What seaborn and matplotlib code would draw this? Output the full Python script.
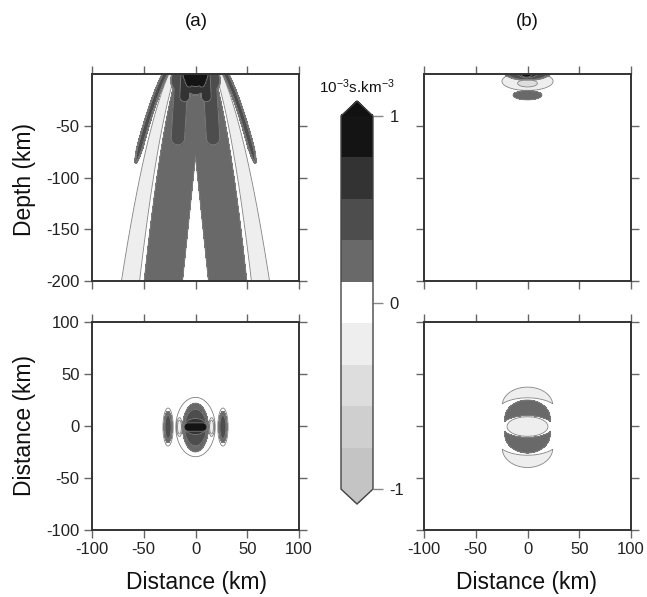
import numpy as np
import matplotlib
matplotlib.use("Agg")
import matplotlib.pyplot as plt
import seaborn as sns
from matplotlib.colors import ListedColormap, BoundaryNorm
from matplotlib.cm import ScalarMappable

# ---------------- data ----------------
LEVELS = np.linspace(-1, 1, 10)
BIN_COLORS = ['#c4c4c4', '#cfcfcf', '#dddddd', '#eeeeee', '#ffffff',
              '#696969', '#4d4d4d', '#333333', '#141414']
OVER_COLOR = '#111111'
UNDER_COLOR = '#c4c4c4'
CBAR_TICKS = [-1, 0, 1]
CBAR_LABEL = r'10$^{-3}$s.km$^{-3}$'
PANEL_TITLES = ['(a)', '(b)']
X_TICKS = [-100, -50, 0, 50, 100]
DEPTH_TICKS = [-200, -150, -100, -50]
MAP_TICKS = [-100, -50, 0, 50, 100]

# panel (a) top: depth section (x km, depth km)
A_TOP_WIDTH = (73.0, 30.0)            # band width at 200 km, depth offset of parabola
A_TOP_BANDS = [(0.00, 0.68, 0.22),    # (u inner, u outer, value)
               (0.74, 0.98, -0.22)]
A_TOP_HOLE = (80.0, 12.5)             # apex depth, half width at 200 km
A_TOP_WING = (1.11, 2.6, 86.0, 0.45)  # u centre, half width km, end depth, value
A_TOP_CAPSULES = [(-10, 6, 10, 6, 14, 0.45),
                  (-14, 12, -17, 62, 7, 0.45),
                  (14, 12, 17, 62, 7, 0.45),
                  (-9.5, 2, -10.5, 22, 5.5, 0.67),
                  (9.5, 2, 10.5, 22, 5.5, 0.67)]
A_TOP_ELLIPSES = [(0, 0, 15, 21, 0.67),
                  (0, 0, 13, 13, 0.9),
                  (-6, 0, 6, 15, 0.9),
                  (6, 0, 6, 15, 0.9)]

# panel (a) bottom: map view (x km, y km)
A_BOT_ELLIPSES = [(0, -1.0, 19, 28.5, 0.05),
                  (0, -1.5, 12.5, 23.5, 0.22),
                  (0, -1.5, 11, 18.5, 0.45),
                  (0, -0.5, 12, 8.5, 0.67),
                  (-26.5, -1, 3.5, 13, 0.45),
                  (26.5, -1, 3.5, 13, 0.45),
                  (-15.5, -1, 2, 7, -0.2),
                  (15.5, -1, 2, 7, -0.2)]
A_BOT_CAPSULES = [(-7, -1, 7, -1, 5, 0.9)]

# panel (b) top: depth section (x km, depth km)
B_TOP_ELLIPSES = [(0, 7, 25, 9, -0.2),
                  (0, 9, 11, 4, -0.45),
                  (0, 0, 20, 6, 0.45),
                  (0, 0, 11, 4.5, 0.67),
                  (-1, 0, 7, 4, 0.9),
                  (0, 20.5, 14, 4.5, 0.22)]

# panel (b) bottom: map view
B_BOT_ELLIPSES = [(0, -0.5, 20, 9.5, -0.2)]
B_BOT_CRESCENTS = [((0, 7, 22, 18), (0, -2, 26, 12), 0.22),
                   ((0, -8, 22, 18), (0, 1, 26, 12), 0.22),
                   ((0, 20, 24.5, 17.5), (0, 13, 30, 14), -0.2),
                   ((0, -21.5, 24.5, 18.5), (0, -14, 30, 14), -0.2)]

# ---------------- field construction ----------------
def s_ellipse(X, Y, e):
    cx, cy, ax_, ay_ = e[:4]
    r = np.hypot((X - cx) / ax_, (Y - cy) / ay_)
    return (1 - r) * min(ax_, ay_)

def s_capsule(X, Y, c):
    x1, y1, x2, y2, hw = c[:5]
    dx, dy = x2 - x1, y2 - y1
    t = np.clip(((X - x1) * dx + (Y - y1) * dy) / (dx * dx + dy * dy), 0, 1)
    dist = np.hypot(X - (x1 + t * dx), Y - (y1 + t * dy))
    return hw - dist

def compose(F, s, v, soft=0.5):
    E = v / (1 + np.exp(-np.clip(s / soft, -60, 60)))
    return np.where(np.abs(E) > np.abs(F), E, F)

xs = np.linspace(-100, 100, 801)
ys_depth = np.linspace(-200, 0, 801)
ys_map = np.linspace(-100, 100, 801)

# (a) top
X, Yp = np.meshgrid(xs, ys_depth)
D = -Yp
R = A_TOP_WIDTH[0] * np.sqrt((D + A_TOP_WIDTH[1]) / (200 + A_TOP_WIDTH[1]))
ax_abs = np.abs(X)
Fa1 = np.zeros_like(X)
hw_hole = A_TOP_HOLE[1] * (D - A_TOP_HOLE[0]) / (200 - A_TOP_HOLE[0])
for u_in, u_out, v in A_TOP_BANDS:
    if u_in == 0:
        s = np.minimum(u_out * R - ax_abs, ax_abs - hw_hole)
    else:
        s = np.minimum(ax_abs - u_in * R, u_out * R - ax_abs)
    Fa1 = compose(Fa1, s, v)
uc, whw, dend, wv = A_TOP_WING
taper = np.sqrt(np.clip((dend - D) / 14.0, 0, 1))
s = np.minimum(whw * taper - np.abs(ax_abs - uc * R), dend - D)
Fa1 = compose(Fa1, s, wv)
for c in A_TOP_CAPSULES:
    Fa1 = compose(Fa1, s_capsule(X, D, c), c[5])
for e in A_TOP_ELLIPSES:
    Fa1 = compose(Fa1, s_ellipse(X, D, e), e[4])

# (a) bottom
Xm, Ym = np.meshgrid(xs, ys_map)
Fa2 = np.zeros_like(Xm)
for e in A_BOT_ELLIPSES:
    Fa2 = compose(Fa2, s_ellipse(Xm, Ym, e), e[4])
for c in A_BOT_CAPSULES:
    Fa2 = compose(Fa2, s_capsule(Xm, Ym, c), c[5])

# (b) top
Fb1 = np.zeros_like(X)
for e in B_TOP_ELLIPSES:
    Fb1 = compose(Fb1, s_ellipse(X, D, e), e[4])

# (b) bottom
Fb2 = np.zeros_like(Xm)
for e in B_BOT_ELLIPSES:
    Fb2 = compose(Fb2, s_ellipse(Xm, Ym, e), e[4])
for outer, inner, v in B_BOT_CRESCENTS:
    s = np.minimum(s_ellipse(Xm, Ym, outer), -s_ellipse(Xm, Ym, inner))
    Fb2 = compose(Fb2, s, v)

# ---------------- plotting ----------------
sns.set_theme(style="ticks")
plt.rcParams['font.family'] = ['Liberation Sans', 'DejaVu Sans']
plt.rcParams['mathtext.fontset'] = 'custom'
plt.rcParams['mathtext.rm'] = 'Liberation Sans'
plt.rcParams['mathtext.it'] = 'Liberation Sans:italic'
plt.rcParams['mathtext.default'] = 'regular'
plt.rcParams['axes.unicode_minus'] = False

cmap = ListedColormap(BIN_COLORS)
cmap.set_over(OVER_COLOR)
cmap.set_under(UNDER_COLOR)
norm = BoundaryNorm(LEVELS, cmap.N)

W, H = 647, 597
fig = plt.figure(figsize=(W / 100, H / 100), dpi=100)
fig.patch.set_facecolor('white')

def fr(x0, y0, x1, y1):
    return [x0 / W, 1 - y1 / H, (x1 - x0) / W, (y1 - y0) / H]

axes = {
    'a1': fig.add_axes(fr(92, 74, 299, 281)),
    'a2': fig.add_axes(fr(92, 322, 299, 530)),
    'b1': fig.add_axes(fr(424, 74, 631, 281)),
    'b2': fig.add_axes(fr(424, 322, 631, 530)),
}
fields = {'a1': (xs, ys_depth, Fa1), 'a2': (xs, ys_map, Fa2),
          'b1': (xs, ys_depth, Fb1), 'b2': (xs, ys_map, Fb2)}
line_levels = [l for l in LEVELS[1:-1] if abs(l) > 1e-9]

for key, ax in axes.items():
    gx, gy, F = fields[key]
    ax.contourf(gx, gy, F, levels=LEVELS, cmap=cmap, norm=norm, extend='both')
    lv = sorted(line_levels + ([0.025] if key == 'a2' else []))
    ax.contour(gx, gy, F, levels=lv, colors='#808080', linewidths=0.6,
               negative_linestyles='solid')
    ax.set_xlim(-100, 100)
    if key.endswith('1'):
        ax.set_ylim(-200, 0)
        ax.set_yticks(DEPTH_TICKS)
    else:
        ax.set_ylim(-100, 100)
        ax.set_yticks(MAP_TICKS)
    ax.set_xticks(X_TICKS)
    ax.tick_params(direction='out', length=6, width=1, color='#666666',
                   top=True, right=True, labelsize=12, pad=3,
                   labelcolor='#222222')
    ax.tick_params(labelbottom=key.endswith('2'), labelleft=key.startswith('a'))
    for sp in ax.spines.values():
        sp.set_linewidth(1.4)
        sp.set_color('#333333')
    ax.set_facecolor('white')

# axis labels and titles
lab = dict(fontsize=16.5, color='#111111', ha='center', va='center')
fig.text(24 / W, 1 - 180 / H, 'Depth (km)', rotation=90, **lab)
fig.text(24 / W, 1 - 426 / H, 'Distance (km)', rotation=90, **lab)
fig.text(196 / W, 1 - 582 / H, 'Distance (km)', **lab)
fig.text(527 / W, 1 - 582 / H, 'Distance (km)', **lab)
fig.text(196 / W, 1 - 22 / H, PANEL_TITLES[0], fontsize=13.5, ha='center', va='center', color='#111111')
fig.text(527 / W, 1 - 22 / H, PANEL_TITLES[1], fontsize=13.5, ha='center', va='center', color='#111111')

# colour bar (interior 116..489 px, extensions ~15 px each)
cax = fig.add_axes(fr(341, 101, 373, 504))
cb = fig.colorbar(ScalarMappable(norm=norm, cmap=cmap), cax=cax, extend='both',
                  extendfrac=0.04, ticks=CBAR_TICKS, drawedges=False)
cb.outline.set_linewidth(1.0)
cb.outline.set_edgecolor('#444444')
cax.minorticks_off()
cax.tick_params(which='both', direction='out', length=7, width=1, color='#888888',
                labelsize=12, pad=5, labelcolor='#222222')
cax.tick_params(which='minor', length=0)
cb.set_ticks(CBAR_TICKS)
cb.set_ticklabels([str(t) for t in CBAR_TICKS])
fig.text(357 / W, 1 - 87 / H, CBAR_LABEL, fontsize=11, ha='center', va='center', color='#111111')

fig.savefig('out.png', dpi=100, facecolor='white')
